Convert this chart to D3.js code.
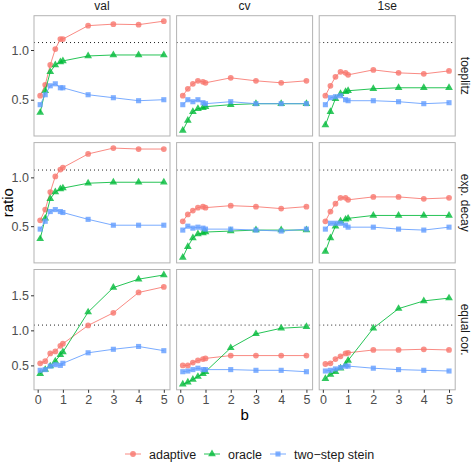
<!DOCTYPE html>
<html>
<head>
<meta charset="utf-8">
<script src="https://cdn.jsdelivr.net/npm/d3@7"></script>
<style>
body { margin: 0; background: #fff; }
text { font-family: "Liberation Sans", Arial, sans-serif; }
</style>
</head>
<body>
<script>
var bVals = [0.1, 0.3, 0.5, 0.7, 0.9, 1, 2, 3, 4, 5];
var methods = ["val", "cv", "1se"];
var structures = ["toeplitz", "exp. decay", "equal cor."];
var seriesNames = ["adaptive", "oracle", "two\u2212step stein"];
var refLine = 1.075;
var xTicks = [0, 1, 2, 3, 4, 5];
var yTicksTop = [0.5, 1.0];
var yTicksBottom = [0.5, 1.0, 1.5];

// each panel: [adaptive, oracle, two-step stein]
var toeplitzVal = [
	[0.54, 0.65, 0.85, 1.01, 1.11, 1.11, 1.245, 1.26, 1.255, 1.29],
	[0.37, 0.59, 0.78, 0.85, 0.88, 0.89, 0.94, 0.95, 0.95, 0.95],
	[0.45, 0.55, 0.64, 0.66, 0.62, 0.62, 0.55, 0.52, 0.49, 0.50]
];
var toeplitzCv = [
	[0.54, 0.61, 0.66, 0.69, 0.68, 0.67, 0.72, 0.69, 0.67, 0.69],
	[0.19, 0.29, 0.38, 0.41, 0.42, 0.43, 0.45, 0.46, 0.46, 0.46],
	[0.45, 0.50, 0.48, 0.50, 0.47, 0.46, 0.48, 0.46, 0.46, 0.46]
];
var toeplitz1se = [
	[0.54, 0.64, 0.73, 0.78, 0.77, 0.75, 0.80, 0.77, 0.76, 0.79],
	[0.245, 0.38, 0.51, 0.56, 0.58, 0.59, 0.61, 0.62, 0.62, 0.62],
	[0.45, 0.52, 0.53, 0.54, 0.50, 0.49, 0.49, 0.48, 0.46, 0.47]
];
var expVal = [
	[0.56, 0.67, 0.85, 1.01, 1.08, 1.10, 1.24, 1.30, 1.29, 1.29],
	[0.37, 0.58, 0.78, 0.85, 0.88, 0.89, 0.94, 0.95, 0.95, 0.95],
	[0.47, 0.55, 0.65, 0.67, 0.65, 0.64, 0.57, 0.51, 0.51, 0.51]
];
var expCv = [
	[0.55, 0.62, 0.66, 0.69, 0.70, 0.69, 0.71, 0.70, 0.68, 0.70],
	[0.18, 0.29, 0.38, 0.42, 0.43, 0.44, 0.45, 0.46, 0.46, 0.46],
	[0.46, 0.50, 0.48, 0.49, 0.48, 0.47, 0.47, 0.46, 0.45, 0.47]
];
var exp1se = [
	[0.55, 0.65, 0.73, 0.79, 0.79, 0.77, 0.80, 0.80, 0.78, 0.79],
	[0.24, 0.38, 0.50, 0.55, 0.57, 0.58, 0.61, 0.61, 0.61, 0.61],
	[0.47, 0.53, 0.53, 0.53, 0.51, 0.49, 0.49, 0.47, 0.46, 0.49]
];
var equalVal = [
	[0.53, 0.56, 0.67, 0.70, 0.78, 0.81, 1.07, 1.25, 1.54, 1.62],
	[0.38, 0.44, 0.49, 0.56, 0.65, 0.69, 1.26, 1.61, 1.73, 1.79],
	[0.43, 0.44, 0.49, 0.51, 0.50, 0.53, 0.68, 0.73, 0.77, 0.71]
];
var equalCv = [
	[0.50, 0.50, 0.54, 0.57, 0.59, 0.60, 0.64, 0.64, 0.64, 0.64],
	[0.23, 0.26, 0.30, 0.34, 0.38, 0.41, 0.75, 0.95, 1.03, 1.05],
	[0.41, 0.42, 0.44, 0.46, 0.44, 0.44, 0.44, 0.43, 0.43, 0.41]
];
var equal1se = [
	[0.52, 0.53, 0.59, 0.63, 0.67, 0.68, 0.72, 0.72, 0.73, 0.72],
	[0.31, 0.37, 0.41, 0.46, 0.51, 0.57, 1.03, 1.31, 1.42, 1.46],
	[0.42, 0.43, 0.45, 0.47, 0.49, 0.49, 0.46, 0.44, 0.43, 0.42]
];

var panels = [
	[toeplitzVal, toeplitzCv, toeplitz1se],
	[expVal, expCv, exp1se],
	[equalVal, equalCv, equal1se]
];
var colors = ["#F8766D", "#00BA38", "#619CFF"];
var shapes = [d3.symbolCircle, d3.symbolTriangle, d3.symbolSquare];
var shapeSize = [26, 26, 26];

var plotLeft = 34, plotTop = 15.7;
var pw = 136, ph = 120.3, gap = 6.6;
var rowTicks = [yTicksTop, yTicksTop, yTicksBottom];

var svg = d3.select("body")
	.append("svg")
	.attr("width", 475)
	.attr("height", 465);

var x = d3.scaleLinear()
	.domain([bVals[0] - 0.245, bVals[bVals.length - 1] + 0.245])
	.range([0, pw]);

var line = d3.line();

for (var r = 0; r < 3; r++) {
	// free y per row, ggplot style 5% padding
	var all = [];
	panels[r].forEach(function(p) { p.forEach(function(s) { all = all.concat(s); }); });
	var lo = d3.min(all), hi = d3.max(all);
	var pad = (hi - lo) * 0.05;
	var y = d3.scaleLinear().domain([lo - pad, hi + pad]).range([ph, 0]);
	var py = plotTop + r * (ph + gap);

	for (var c = 0; c < 3; c++) {
		var px = plotLeft + c * (pw + gap);
		var g = svg.append("g").attr("transform", "translate(" + px + "," + py + ")");

		g.append("line")
			.attr("x1", 0).attr("x2", pw)
			.attr("y1", y(refLine)).attr("y2", y(refLine))
			.attr("stroke", "#222")
			.attr("stroke-width", 1)
			.attr("stroke-dasharray", "1,3");

		panels[r][c].forEach(function(vals, k) {
			var pts = vals.map(function(v, i) { return [x(bVals[i]), y(v)]; });
			g.append("path")
				.attr("d", line(pts))
				.attr("fill", "none")
				.attr("stroke", colors[k])
				.attr("stroke-opacity", 0.85)
				.attr("stroke-width", 1);
			g.selectAll(null)
				.data(pts)
				.enter()
				.append("path")
				.attr("d", d3.symbol().type(shapes[k]).size(shapeSize[k]))
				.attr("transform", function(d) { return "translate(" + d[0] + "," + d[1] + ")"; })
				.attr("fill", colors[k])
				.attr("fill-opacity", 0.8);
		});

		g.append("rect")
			.attr("width", pw).attr("height", ph)
			.attr("fill", "none")
			.attr("stroke", "#b3b3b3")
			.attr("stroke-width", 1);

		if (r == 0) {
			svg.append("text")
				.attr("x", px + pw / 2).attr("y", 10)
				.attr("text-anchor", "middle")
				.attr("font-size", "12px")
				.attr("fill", "#1a1a1a")
				.text(methods[c]);
		}
		if (c == 0) {
			var ya = g.append("g").call(d3.axisLeft(y).tickValues(rowTicks[r]).tickFormat(d3.format(".1f")).tickSize(3).tickPadding(2));
			ya.select(".domain").remove();
			ya.selectAll("line").attr("stroke", "#333");
			ya.selectAll("text").attr("font-size", "12.5px").attr("fill", "#4d4d4d").attr("font-family", "Liberation Sans, Arial, sans-serif");
		}
		if (r == 2) {
			var xa = g.append("g").attr("transform", "translate(0," + ph + ")")
				.call(d3.axisBottom(x).tickValues(xTicks).tickFormat(d3.format("d")).tickSize(3).tickPadding(2));
			xa.select(".domain").remove();
			xa.selectAll("line").attr("stroke", "#333");
			xa.selectAll("text").attr("font-size", "12.5px").attr("fill", "#4d4d4d").attr("font-family", "Liberation Sans, Arial, sans-serif");
		}
		if (c == 2) {
			svg.append("text")
				.attr("transform", "translate(" + (px + pw + 6) + "," + (py + ph / 2) + ")rotate(90)")
				.attr("text-anchor", "middle")
				.attr("font-size", "12px")
				.attr("fill", "#1a1a1a")
				.text(structures[r]);
		}
	}
}

// axis titles
svg.append("text")
	.attr("x", plotLeft + 1.5 * pw + gap).attr("y", 420)
	.attr("text-anchor", "middle")
	.attr("font-size", "15px")
	.attr("fill", "#000")
	.text("b");
svg.append("text")
	.attr("transform", "translate(13," + (plotTop + 1.5 * ph + gap) + ")rotate(-90)")
	.attr("text-anchor", "middle")
	.attr("font-size", "15px")
	.attr("fill", "#000")
	.text("ratio");

// legend
var legX = [133, 212, 278];
seriesNames.forEach(function(name, k) {
	var lg = svg.append("g").attr("transform", "translate(" + legX[k] + ",454)");
	lg.append("line")
		.attr("x1", -8).attr("x2", 8)
		.attr("stroke", colors[k])
		.attr("stroke-opacity", 0.85);
	lg.append("path")
		.attr("d", d3.symbol().type(shapes[k]).size(shapeSize[k]))
		.attr("fill", colors[k])
		.attr("fill-opacity", 0.8);
	lg.append("text")
		.attr("x", 16).attr("y", 4.5)
		.attr("font-size", "12.5px")
		.attr("fill", "#1a1a1a")
		.text(name);
});
</script>
</body>
</html>
